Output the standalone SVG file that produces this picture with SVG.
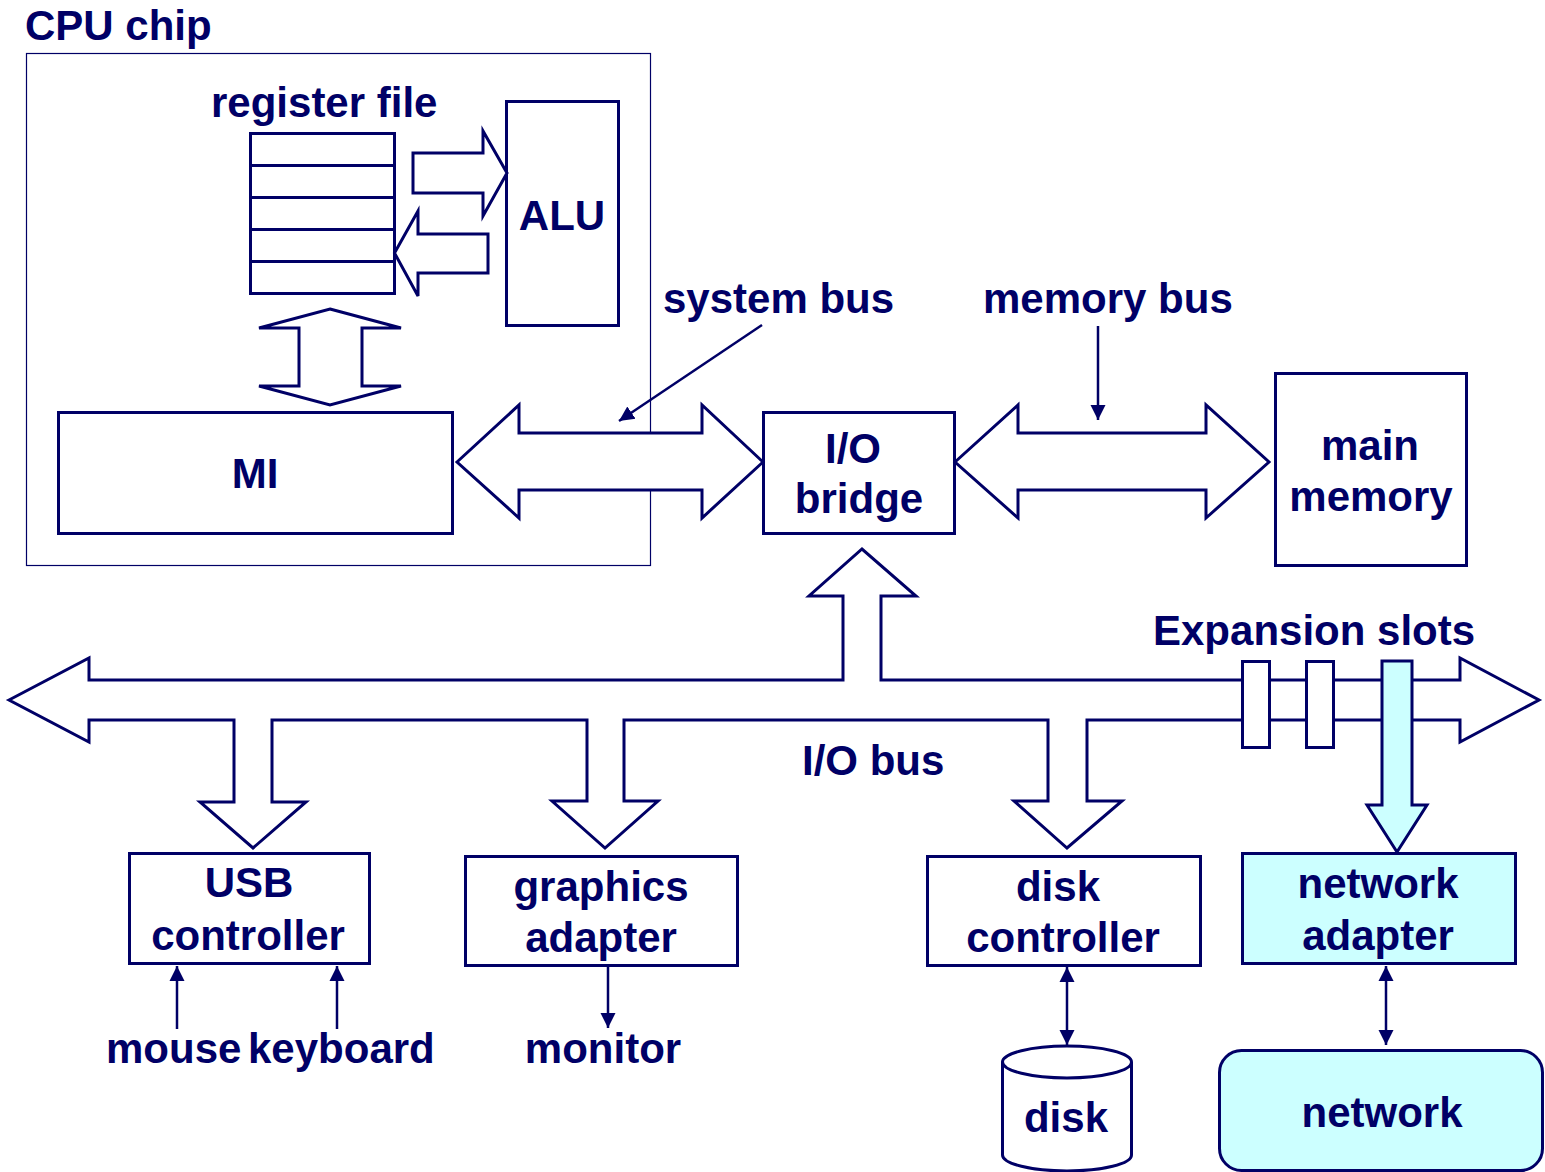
<svg xmlns="http://www.w3.org/2000/svg" width="1545" height="1172" viewBox="0 0 1545 1172">
<style>
  text { font-family: "Liberation Sans", Arial, sans-serif; font-weight: bold; font-size: 42px; fill: #000066; }
  .c { text-anchor: middle; }
  .box { fill: #ffffff; stroke: #000066; stroke-width: 3; }
  .cyan { fill: #ccffff; stroke: #000066; stroke-width: 3; }
  .bus { fill: #ffffff; stroke: #000066; stroke-width: 3; stroke-linejoin: miter; }
  .thin { fill: none; stroke: #000066; stroke-width: 2.5; }
</style>
<defs>
  <marker id="ah" markerUnits="userSpaceOnUse" markerWidth="16" markerHeight="16" refX="15" refY="8" orient="auto-start-reverse" viewBox="0 0 16 16">
    <path d="M0,0.5 L15,8 L0,15.5 z" fill="#000066"/>
  </marker>
</defs>
<rect width="1545" height="1172" fill="#ffffff"/>

<g id="cpu-chip">
  <rect x="26.5" y="53.5" width="624" height="512" fill="none" stroke="#000066" stroke-width="1.2"/>
  <text x="25" y="40">CPU chip</text>
</g>

<g id="register-file">
  <text x="211" y="117">register file</text>
  <rect class="box" x="250.5" y="133.5" width="144" height="160"/>
  <path class="thin" style="stroke-width:3" d="M250.5,165.5 H394.5 M250.5,197.5 H394.5 M250.5,229.5 H394.5 M250.5,261.5 H394.5"/>
</g>

<g id="alu">
  <rect class="box" x="506.5" y="101.5" width="112" height="224"/>
  <text class="c" x="562" y="230">ALU</text>
</g>

<g id="mi">
  <rect class="box" x="58.5" y="412.5" width="394" height="121"/>
  <text class="c" x="255" y="488">MI</text>
</g>

<g id="io-bridge">
  <rect class="box" x="763.5" y="412.5" width="191" height="121"/>
  <text class="c" x="853" y="463">I/O</text>
  <text class="c" x="859" y="513">bridge</text>
</g>

<g id="main-memory">
  <rect class="box" x="1275.5" y="373.5" width="191" height="192"/>
  <text class="c" x="1370" y="460">main</text>
  <text class="c" x="1371" y="511">memory</text>
</g>

<g id="usb-controller">
  <rect class="box" x="129.5" y="853.5" width="240" height="110"/>
  <text class="c" x="249" y="897">USB</text>
  <text class="c" x="248" y="950">controller</text>
</g>

<g id="graphics-adapter">
  <rect class="box" x="465.5" y="856.5" width="272" height="109"/>
  <text class="c" x="601" y="901">graphics</text>
  <text class="c" x="601" y="952">adapter</text>
</g>

<g id="disk-controller">
  <rect class="box" x="927.5" y="856.5" width="273" height="109"/>
  <text class="c" x="1058" y="901">disk</text>
  <text class="c" x="1063" y="952">controller</text>
</g>

<g id="network-adapter">
  <rect class="cyan" x="1242.5" y="853.5" width="273" height="110"/>
  <text class="c" x="1378" y="898">network</text>
  <text class="c" x="1378" y="950">adapter</text>
</g>

<g id="disk">
  <path class="box" d="M1002.5,1062 L1002.5,1155 A64.5,16 0 0 0 1131.5,1155 L1131.5,1062 A64.5,16 0 0 0 1002.5,1062 Z"/>
  <path class="thin" style="stroke-width:3" d="M1002.5,1062 A64.5,16 0 0 0 1131.5,1062"/>
  <text class="c" x="1066" y="1132">disk</text>
</g>

<g id="network">
  <rect class="cyan" x="1219.5" y="1050.5" width="323" height="120" rx="22" ry="22"/>
  <text class="c" x="1382" y="1127">network</text>
</g>

<g id="labels">
  <text x="663" y="313">system bus</text>
  <text x="983" y="313">memory bus</text>
  <text x="1153" y="645">Expansion slots</text>
  <text x="802" y="775">I/O bus</text>
  <text x="106" y="1063">mouse</text>
  <text x="248" y="1063">keyboard</text>
  <text class="c" x="603" y="1063">monitor</text>
</g>

<g id="connectors">
  <!-- register file <-> ALU -->
  <polygon class="bus" points="413,153 483,153 483,131 507,173 483,216 483,193 413,193"/>
  <polygon class="bus" points="488,234 418,234 418,211 394.5,253 418,296 418,273 488,273"/>
  <!-- register file <-> MI -->
  <polygon class="bus" points="330,309 401,328 362,328 362,386 401,386 330,405 259,386 299,386 299,328 259,328"/>
  <!-- system bus -->
  <polygon class="bus" points="457,462 519,405 519,433 702,433 702,405 763,462 702,518 702,490 519,490 519,518"/>
  <!-- memory bus -->
  <polygon class="bus" points="955,462 1018,405 1018,433 1206,433 1206,405 1269,462 1206,518 1206,490 1018,490 1018,518"/>
  <!-- I/O bus -->
  <polygon class="bus" points="9,700 89,658 89,680 843,680 843,596 809,596 862,549 916,596 881,596 881,680 1460,680 1460,658 1539,700 1460,742 1460,720 1087,720 1087,801 1122,801 1067,848 1014,801 1048,801 1048,720 624,720 624,801 658,801 605,848 552,801 587,801 587,720 272,720 272,802 306,802 253,848 200,802 234,802 234,720 89,720 89,742"/>
  <!-- expansion slots -->
  <rect class="box" x="1242.5" y="661.5" width="27" height="86"/>
  <rect class="box" x="1306.5" y="661.5" width="27" height="86"/>
  <polygon class="cyan" points="1382,661 1412,661 1412,805 1427,805 1397,852 1367,805 1382,805"/>
  <!-- pointer arrows -->
  <line class="thin" x1="762" y1="325" x2="619" y2="421" marker-end="url(#ah)"/>
  <line class="thin" x1="1098" y1="326" x2="1098" y2="420" marker-end="url(#ah)"/>
  <line class="thin" x1="177" y1="1029" x2="177" y2="966" marker-end="url(#ah)"/>
  <line class="thin" x1="337" y1="1029" x2="337" y2="966" marker-end="url(#ah)"/>
  <line class="thin" x1="608" y1="966" x2="608" y2="1028" marker-end="url(#ah)"/>
  <line class="thin" x1="1067" y1="967" x2="1067" y2="1045" marker-start="url(#ah)" marker-end="url(#ah)"/>
  <line class="thin" x1="1386" y1="966" x2="1386" y2="1045" marker-start="url(#ah)" marker-end="url(#ah)"/>
</g>
</svg>
